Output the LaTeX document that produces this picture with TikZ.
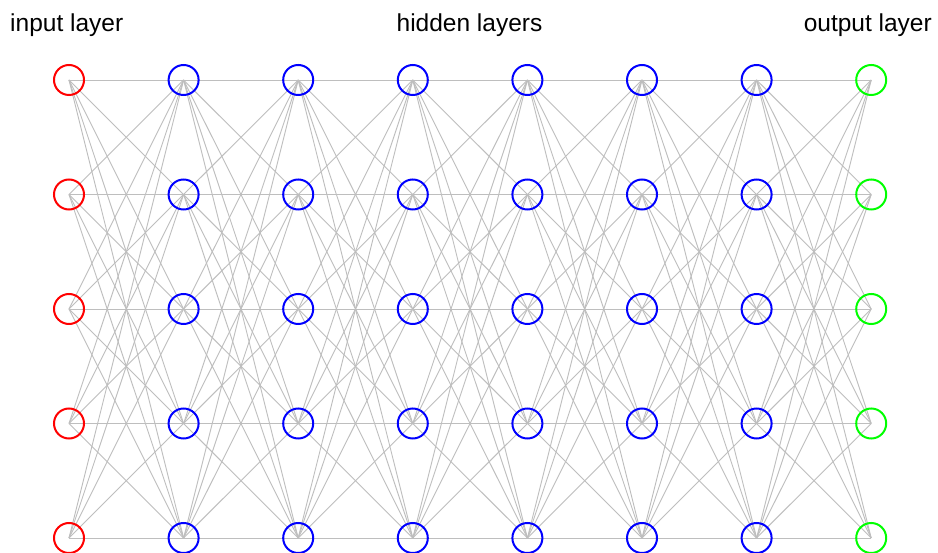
\documentclass[tikz,border=0pt]{standalone}
\usepackage{fontspec}
\setmainfont{Liberation Sans}
\begin{document}
\begin{tikzpicture}[x=1pt,y=-1pt,
  neuron/.style={circle,draw,line width=2pt,minimum size=30pt,inner sep=0pt},
  inputn/.style={neuron,draw={rgb,255:red,255;green,0;blue,0}},
  hiddenn/.style={neuron,draw={rgb,255:red,0;green,0;blue,255}},
  outputn/.style={neuron,draw={rgb,255:red,0;green,255;blue,0}},
  synapse/.style={draw={rgb,255:red,190;green,190;blue,190},line width=0.9pt},
  layerlabel/.style={font=\fontsize{24.5}{28}\selectfont,inner sep=0pt}]
\clip (0,0) rectangle (938,553);
\fill[white] (0,0) rectangle (938,553);
% neuron centres: 8 layers x 5 neurons
\foreach \i in {1,...,8} {
  \foreach \j in {1,...,5} {
    \coordinate (c-\i-\j) at ({69+(\i-1)*114.6},{80+(\j-1)*114.5});
  }
}
% full connections between consecutive layers
\foreach \i [evaluate=\i as \k using int(\i+1)] in {1,...,7} {
  \foreach \j in {1,...,5} {
    \foreach \m in {1,...,5} {
      \draw[synapse] (c-\i-\j) -- (c-\k-\m);
    }
  }
}
% neurons
\foreach \j in {1,...,5} {
  \node[inputn] (n-1-\j) at (c-1-\j) {};
  \foreach \i in {2,...,7} {
    \node[hiddenn] (n-\i-\j) at (c-\i-\j) {};
  }
  \node[outputn] (n-8-\j) at (c-8-\j) {};
}
% layer titles
\node[layerlabel,anchor=base west] (tin) at (10,32) {input layer};
\node[layerlabel,anchor=base] (thid) at (469.5,32) {hidden layers};
\node[layerlabel,anchor=base east] (tout) at (932,32) {output layer};
\end{tikzpicture}
\end{document}
